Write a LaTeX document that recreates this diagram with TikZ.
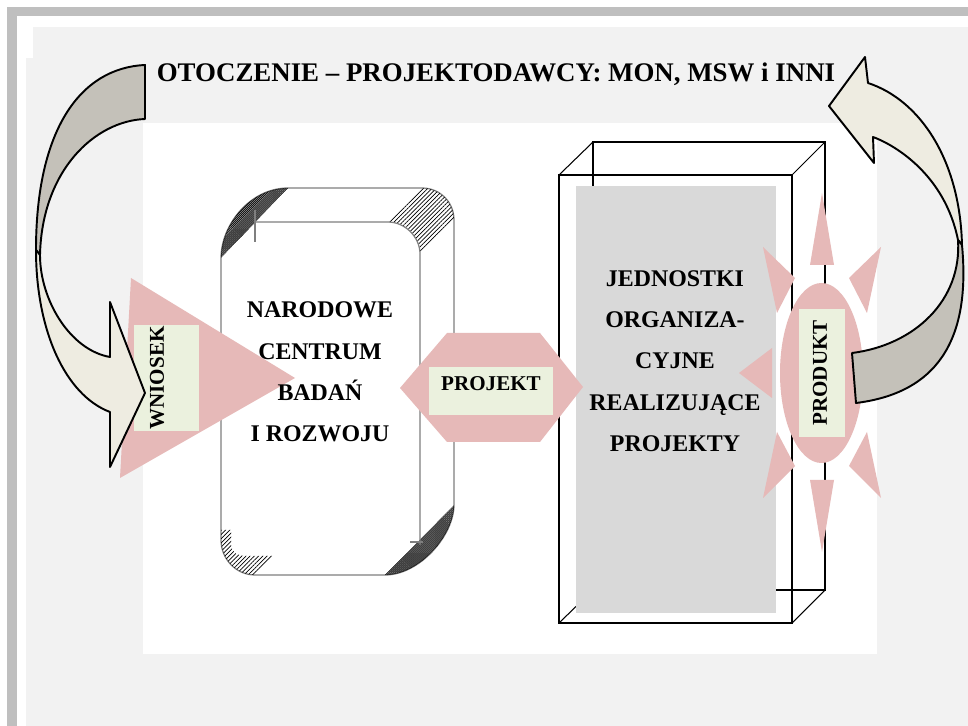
\documentclass[tikz,border=0pt]{standalone}
\usepackage{fontspec}
\setmainfont{Liberation Serif}
\usetikzlibrary{patterns.meta}

\definecolor{framegray}{HTML}{BFBFBF}
\definecolor{panelgray}{HTML}{F2F2F2}
\definecolor{boxgray}{HTML}{D9D9D9}
\definecolor{rosefill}{HTML}{E6B9B8}
\definecolor{labelgreen}{HTML}{EBF1DE}
\definecolor{arrowlight}{HTML}{EEECE1}
\definecolor{arrowdark}{HTML}{C4C1B9}
\definecolor{edgegray}{HTML}{7F7F7F}

\begin{document}
\begin{tikzpicture}[
    x=0.02cm, y=-0.02cm,
    rose/.style={fill=rosefill},
    tag/.style={fill=labelgreen},
    tagtext/.style={font=\fontsize{12}{14}\selectfont\bfseries, inner sep=0pt},
    bodytext/.style={font=\fontsize{13.6}{23.5}\selectfont\bfseries, align=center, inner sep=0pt},
    arrowband/.style={draw=black, line width=1.1pt, line join=round},
    hatchdense/.style={pattern={Lines[angle=45,distance=0.8pt,line width=.5pt]}},
    hatchwide/.style={pattern={Lines[angle=45,distance=1.7pt,line width=.4pt]}}
]
\useasboundingbox (0,0) rectangle (968,726);

% Background and frame
\fill[white] (0,0) rectangle (968,726);
\fill[framegray] (7,7) rectangle (968,16);
\fill[framegray] (7,7) rectangle (17,726);
\fill[panelgray] (33,27) rectangle (968,58);
\fill[panelgray] (26,58) rectangle (968,726);
\fill[white] (143,123) rectangle (877,654);

% Left box (NCBR)
\filldraw[fill=white, draw=edgegray, line width=.7pt]
    (288,188) -- (422,188) .. controls (440,188) and (454,202) .. (454,220)
    -- (454,505) .. controls (454,535) and (420,575) .. (385,575)
    -- (255,575) .. controls (236,575) and (221,559) .. (221,540)
    -- (221,258) .. controls (221,225) and (250,188) .. (288,188) -- cycle;
\fill[hatchdense] (221,258) .. controls (221,225) and (250,188) .. (288,188) -- cycle;
\fill[hatchwide] (388,222) -- (422,188) .. controls (440,188) and (454,202) .. (454,220)
    -- (420,253) .. controls (420,236) and (405,222) .. (388,222) -- cycle;
\fill[hatchwide] (221,530) -- (231,530) -- (231,546) .. controls (233,553) and (238,556) .. (246,556)
    -- (274,556) -- (255,575) .. controls (236,575) and (221,559) .. (221,540) -- cycle;
\fill[hatchdense] (454,505) .. controls (454,535) and (420,575) .. (385,575) -- cycle;
\draw[edgegray, line width=.7pt] (255,222) -- (388,222) .. controls (405,222) and (420,237) .. (420,254) -- (420,545);
\draw[edgegray, line width=.7pt] (255,210) -- (255,242);
\draw[edgegray, line width=.7pt] (410,542) -- (423,542);

% Right box (cube)
\draw[black, line width=.6pt] (559,175) rectangle (792,623);
\draw[black, line width=.6pt] (593,142) rectangle (825,590);
\draw[black, line width=.6pt] (559,175) -- (593,142) (792,175) -- (825,142)
    (559,623) -- (593,590) (792,623) -- (825,590);
\fill[boxgray] (576,186) rectangle (776,613);

% Pink shapes
\fill[rose] (131,278) -- (295,378) -- (120,478) -- cycle;
\fill[rose] (400,388) -- (447,333) -- (540,333) -- (583,387) -- (540,442) -- (447,442) -- cycle;
\foreach \ax/\ay/\bx/\by/\cx/\cy in {
    810/265/834/265/822/193, 810/480/834/480/822/552,
    763/247/795/278/777/313, 881/247/849/278/867/313,
    739/373/772/348/772/398,
    763/498/795/466/777/432, 881/498/849/466/867/432} {
  \fill[rose] (\ax,\ay) -- (\bx,\by) -- (\cx,\cy) -- cycle;
}
\fill[rose] (821.5,373) ellipse [x radius=41.5, y radius=90];

% Label boxes
\fill[tag] (134,325) rectangle (199,431);
\fill[tag] (429,367) rectangle (553,415);
\fill[tag] (799,309) rectangle (845,437);

% Left curved arrow
\filldraw[arrowband, fill=arrowdark] (145,65) .. controls (80,68) and (36,130) .. (36,250)
    -- (40,255) .. controls (42,170) and (95,121) .. (145,119) -- cycle;
\filldraw[arrowband, fill=arrowlight] (36,250) .. controls (36,330) and (65,395) .. (110,412)
    -- (110,467) -- (145,393) -- (110,302) -- (110,357)
    .. controls (70,350) and (40,300) .. (40,255) -- cycle;

% Right curved arrow
\filldraw[arrowband, fill=arrowlight] (829,106) -- (865,57) -- (868,83)
    .. controls (920,100) and (960,160) .. (962,245)
    -- (958,240) .. controls (945,175) and (895,145) .. (873,137) -- (874,163) -- cycle;
\filldraw[arrowband, fill=arrowdark] (962,245) .. controls (970,330) and (945,392) .. (856,403)
    -- (852,353) .. controls (915,345) and (962,300) .. (958,240) -- cycle;

% Texts
\node[font=\fontsize{15.3}{18}\selectfont\bfseries, inner sep=0pt] (otoczenie) at (496,74)
    {OTOCZENIE – PROJEKTODAWCY: MON, MSW i INNI};
\node[bodytext] (ncbr) at (320,372) {NARODOWE\\CENTRUM\\BADAŃ\\I ROZWOJU};
\node[bodytext] (jednostki) at (675,361) {JEDNOSTKI\\ORGANIZA-\\CYJNE\\REALIZUJĄCE\\PROJEKTY};
\node[tagtext, rotate=90] (wniosek) at (157,378) {WNIOSEK};
\node[tagtext] (projekt) at (491,384) {PROJEKT};
\node[tagtext, rotate=90] (produkt) at (820,373) {PRODUKT};

\end{tikzpicture}
\end{document}
